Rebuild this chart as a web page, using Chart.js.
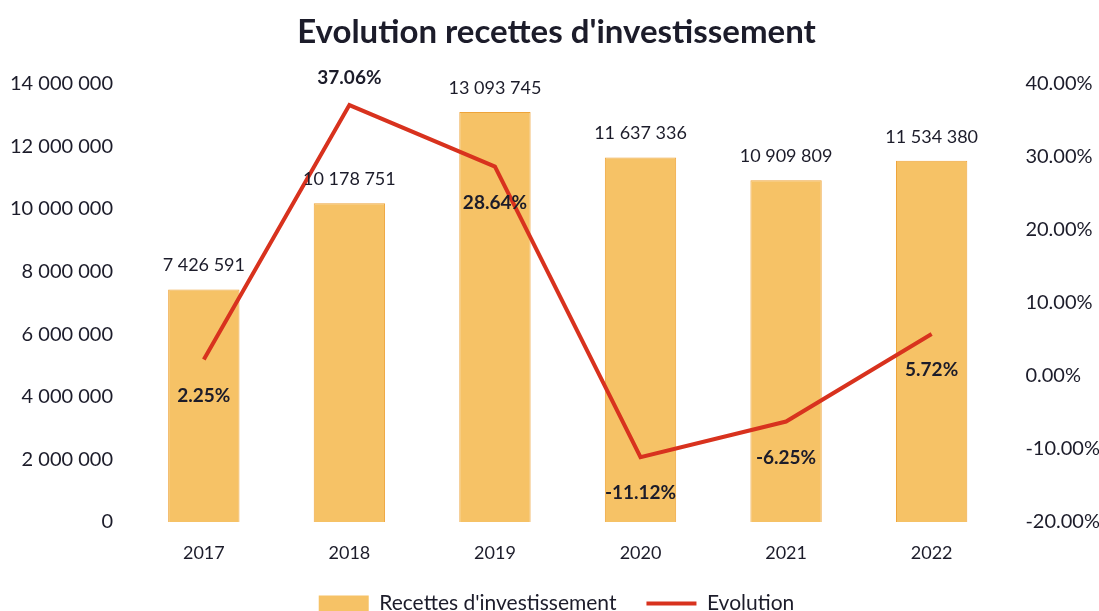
<!DOCTYPE html>
<html>
<head>
<meta charset="utf-8">
<script src="https://cdn.jsdelivr.net/npm/chart.js@4"></script>
<style>
  html, body { margin: 0; padding: 0; background: #fff; }
</style>
</head>
<body>
<canvas id="c" width="1099" height="611"></canvas>
<script>
// données
const annees = ['2017', '2018', '2019', '2020', '2021', '2022'];
const recettes = [7426591, 10178751, 13093745, 11637336, 10909809, 11534380];
const evolution = [2.25, 37.06, 28.64, -11.12, -6.25, 5.72];
// position des étiquettes de la courbe (au-dessus / en dessous)
const evoLabelPos = ['below', 'above', 'below', 'below', 'below', 'below'];

const police = 'Lato, "Liberation Sans", sans-serif';

// format "14 000 000"
function fmtEspace(v) {
    return String(Math.round(v)).replace(/\B(?=(\d{3})+(?!\d))/g, ' ');
}

// plugin pour les étiquettes de données
const etiquettes = {
    id: 'etiquettes',
    afterDatasetsDraw(chart) {
        const ctx = chart.ctx;
        ctx.save();
        ctx.fillStyle = '#1c1c2a';
        ctx.textAlign = 'center';
        ctx.textBaseline = 'middle';
        // barres
        ctx.font = '18px ' + police;
        chart.getDatasetMeta(0).data.forEach((bar, i) => {
            ctx.fillText(fmtEspace(recettes[i]), bar.x, bar.y - 24);
        });
        // courbe
        ctx.font = 'bold 19px ' + police;
        chart.getDatasetMeta(1).data.forEach((pt, i) => {
            const txt = evolution[i].toFixed(2) + '%';
            if (evoLabelPos[i] === 'above') {
                ctx.fillText(txt, pt.x, pt.y - 27);
            } else {
                ctx.fillText(txt, pt.x, pt.y + 36);
            }
        });
        ctx.restore();
    }
};

const config = {
    data: {
        labels: annees,
        datasets: [{
            type: 'bar',
            label: "Recettes d'investissement",
            data: recettes,
            backgroundColor: '#F6C266',
            borderColor: '#EEA43A',
            borderWidth: 1,
            barPercentage: 0.49,
            categoryPercentage: 1,
            yAxisID: 'y',
            order: 2
        }, {
            type: 'line',
            label: 'Evolution',
            data: evolution,
            borderColor: '#D8321E',
            backgroundColor: '#D8321E',
            borderWidth: 4,
            pointRadius: 0,
            tension: 0,
            yAxisID: 'y2',
            order: 1
        }]
    },
    options: {
        responsive: false,
        animation: false,
        layout: { padding: { left: -8, right: -22, top: 0, bottom: -13 } },
        plugins: {
            title: {
                display: true,
                text: "Evolution recettes d'investissement",
                color: '#1c1c2a',
                font: { family: police, size: 33, weight: 'bold' },
                padding: { top: 13, bottom: 31 }
            },
            legend: {
                position: 'bottom',
                labels: {
                    usePointStyle: true,
                    pointStyleWidth: 50,
                    boxHeight: 16,
                    padding: 30,
                    color: '#1c1c2a',
                    font: { family: police, size: 21 },
                    sort: (a, b) => a.datasetIndex - b.datasetIndex,
                    generateLabels(chart) {
                        const items = Chart.defaults.plugins.legend.labels.generateLabels(chart);
                        items.forEach(it => {
                            if (it.datasetIndex === 0) {
                                it.pointStyle = 'rect';
                                it.lineWidth = 0;
                                it.fillStyle = '#F6C266';
                            } else {
                                it.pointStyle = 'line';
                                it.lineWidth = 4;
                                it.strokeStyle = '#D8321E';
                            }
                        });
                        return items;
                    }
                }
            },
            tooltip: { enabled: false }
        },
        scales: {
            x: {
                grid: { display: false, drawTicks: false },
                border: { display: false },
                afterFit: s => { s.height = 41; },
                ticks: {
                    color: '#1c1c2a',
                    padding: 20,
                    font: { family: police, size: 18 }
                }
            },
            y: {
                position: 'left',
                min: 0,
                max: 14000000,
                grid: { display: false, drawTicks: false },
                border: { display: false },
                ticks: {
                    stepSize: 2000000,
                    color: '#1c1c2a',
                    padding: 18,
                    font: { family: police, size: 20 },
                    callback: v => fmtEspace(v)
                }
            },
            y2: {
                position: 'right',
                min: -20,
                max: 40,
                grid: { display: false, drawTicks: false },
                border: { display: false },
                ticks: {
                    stepSize: 10,
                    color: '#1c1c2a',
                    padding: 21,
                    font: { family: police, size: 20 },
                    callback: v => v.toFixed(2) + '%'
                }
            }
        }
    },
    plugins: [etiquettes]
};

new Chart(document.getElementById('c'), config);
</script>
</body>
</html>
